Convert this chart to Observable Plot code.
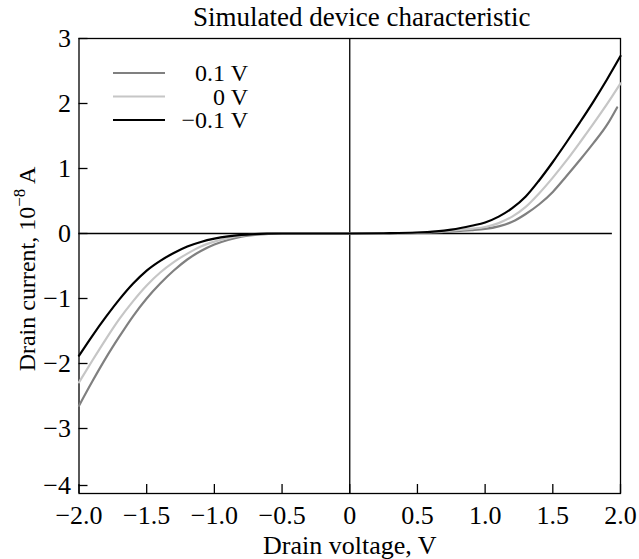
<!DOCTYPE html>
<html>
<head>
<meta charset="utf-8">
<script src="https://cdn.jsdelivr.net/npm/d3@7"></script>
<script src="https://cdn.jsdelivr.net/npm/@observablehq/plot@0.6"></script>
<style>
  html, body { margin: 0; padding: 0; background: #fff; }
  svg { font-family: "Liberation Serif", "DejaVu Serif", serif; }
</style>
</head>
<body>
<div id="chart"></div>
<script>
const voltage = [-2, -1.9, -1.8, -1.7, -1.6, -1.5, -1.4, -1.3, -1.2, -1.1, -1.0, -0.9, -0.8, -0.7, -0.6, -0.5,
                 -0.25, 0, 0.25, 0.5, 0.75, 0.9, 1.0, 1.1, 1.2, 1.3, 1.4, 1.5, 1.6, 1.7, 1.8, 1.9, 2.0];
const seriesNames = ["0.1 V", "0 V", "\u22120.1 V"];
const seriesColors = ["#808080", "#c6c6c6", "#000000"];
const current01 = [-2.65, -2.27, -1.91, -1.58, -1.27, -1.00, -0.77, -0.57, -0.40, -0.27, -0.17, -0.10, -0.05, -0.022, -0.008, -0.002,
                   0, 0, 0.002, 0.01, 0.03, 0.05, 0.07, 0.11, 0.18, 0.30, 0.45, 0.64, 0.88, 1.13, 1.39, 1.67, 1.94];
const current0 = [-2.29, -1.95, -1.62, -1.31, -1.04, -0.80, -0.60, -0.44, -0.31, -0.20, -0.125, -0.07, -0.035, -0.015, -0.005, 0,
                  0, 0, 0.003, 0.012, 0.045, 0.075, 0.10, 0.16, 0.26, 0.41, 0.62, 0.86, 1.12, 1.40, 1.69, 1.99, 2.31];
const currentM01 = [-1.88, -1.57, -1.28, -1.01, -0.77, -0.57, -0.42, -0.30, -0.20, -0.13, -0.08, -0.045, -0.022, -0.009, -0.003, 0,
                    0, 0, 0.004, 0.015, 0.06, 0.12, 0.17, 0.26, 0.39, 0.57, 0.82, 1.10, 1.40, 1.71, 2.03, 2.37, 2.73];
const grayLastVoltage = 1.975;   // the 0.1 V curve stops just short of 2.0 V
const xTicks = [-2, -1.5, -1, -0.5, 0, 0.5, 1, 1.5, 2];
const yTicks = [-3, -2, -1, 0, 1, 2, 3];
const yBottomTick = [-4];
const zeroLineEnd = 1.94;

const minus = s => s.replace(/-/g, "\u2212");
const fmtX = d => d === 0 ? "0" : minus(d.toFixed(1));
const fmtY = d => minus(String(d));

const allSeries = [current01, current0, currentM01];
const rows = [];
allSeries.forEach((vals, si) => {
  voltage.forEach((v, i) => {
    const x = (si === 0 && i === voltage.length - 1) ? grayLastVoltage : v;
    rows.push({series: seriesNames[si], x, y: vals[i]});
  });
});

const FS = 26;
const plot = Plot.plot({
  width: 639,
  height: 559,
  marginLeft: 78.5,
  marginRight: 19,
  marginTop: 38,
  marginBottom: 66,
  style: {fontFamily: "Liberation Serif", fontSize: FS + "px", color: "#000", background: "#fff"},
  x: {domain: [-2, 2], label: null},
  y: {domain: [-4, 3], label: null},
  color: {domain: seriesNames, range: seriesColors},
  marks: [
    Plot.frame({stroke: "#000", strokeWidth: 1.3}),
    Plot.ruleX([0], {stroke: "#000", strokeWidth: 1.3}),
    Plot.ruleY([0], {x1: -2, x2: zeroLineEnd, stroke: "#000", strokeWidth: 1.3}),
    Plot.axisX({ticks: xTicks, tickFormat: fmtX, tickSize: -9, tickPadding: 21, stroke: "#000", strokeWidth: 1.3, fontSize: FS, label: null}),
    Plot.axisY({ticks: yTicks, tickFormat: fmtY, tickSize: -9, tickPadding: 17, stroke: "#000", strokeWidth: 1.3, fontSize: FS, label: null}),
    Plot.axisY({ticks: yBottomTick, tickFormat: fmtY, tickSize: -9, tickPadding: 17, dy: -8, stroke: "#000", strokeWidth: 1.3, fontSize: FS, label: null}),
    Plot.line(rows, {x: "x", y: "y", z: "series", stroke: "series", strokeWidth: 2.2, curve: "monotone-x"}),
    Plot.text(["Drain voltage, V"], {frameAnchor: "bottom", dy: 60, fontSize: FS, fill: "#000"}),
    Plot.text(["Simulated device characteristic"], {frameAnchor: "top", lineAnchor: "middle", dx: 12, dy: -21, fontSize: 27, fill: "#000"})
  ]
});

const svg = d3.select(plot);

// y-axis label with a real superscript
const ylab = svg.append("text")
  .attr("transform", "translate(35,269) rotate(-90)")
  .attr("text-anchor", "middle")
  .attr("font-size", 24)
  .attr("font-family", "Liberation Serif")
  .attr("fill", "#000");
ylab.append("tspan").text("Drain current, 10");
ylab.append("tspan").attr("font-size", 17).attr("dy", -10).text("\u22128");
ylab.append("tspan").attr("dy", 10).text(" A");

// legend inside plot area, top-left
const legend = svg.append("g").attr("font-size", 24).attr("font-family", "Liberation Serif");
seriesNames.forEach((name, i) => {
  const y = 73 + i * 23.5;
  legend.append("line").attr("x1", 113).attr("x2", 165).attr("y1", y).attr("y2", y)
    .attr("stroke", seriesColors[i]).attr("stroke-width", 2.2);
  legend.append("text").attr("x", 248).attr("y", y + 8).attr("text-anchor", "end")
    .attr("fill", "#000").text(name);
});

document.getElementById("chart").appendChild(plot);
</script>
</body>
</html>
